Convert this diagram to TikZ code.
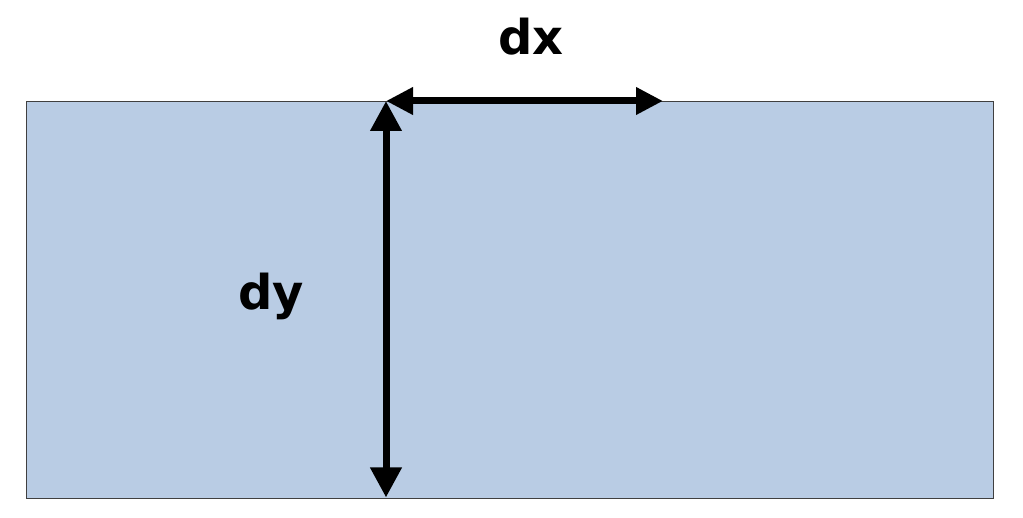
\documentclass[tikz,border=0pt]{standalone}
\usepackage{fontspec}
\setmainfont{DejaVu Sans}
\usetikzlibrary{arrows.meta}
\definecolor{panel}{HTML}{B9CCE4}
\begin{document}
\begin{tikzpicture}[x=1pt,y=1pt,
  lbl/.style={font=\fontsize{48}{48}\selectfont\bfseries, inner sep=0pt, anchor=base},
  dimh/.style={line width=7pt, {Triangle[length=27pt,width=26pt]}-{Triangle[length=27pt,width=26pt]}},
  dimv/.style={line width=7pt, {Triangle[length=30pt,width=30pt]}-{Triangle[length=30pt,width=30pt]}}]
\useasboundingbox (0,0) rectangle (1023,517);
\node[draw=black!75, line width=1pt, fill=panel, minimum width=967pt, minimum height=397pt, inner sep=0pt, anchor=north west] (box) at (26,416) {};
\coordinate (o) at (386,416);
\coordinate (hx) at (663,416);
\coordinate (vy) at (386,19.5);
\draw[dimh] (o) -- (hx);
\draw[dimv] (o) -- (vy);
\node[lbl] (dx) at (531,462) {dx};
\node[lbl] (dy) at (271,207) {dy};
\end{tikzpicture}
\end{document}
